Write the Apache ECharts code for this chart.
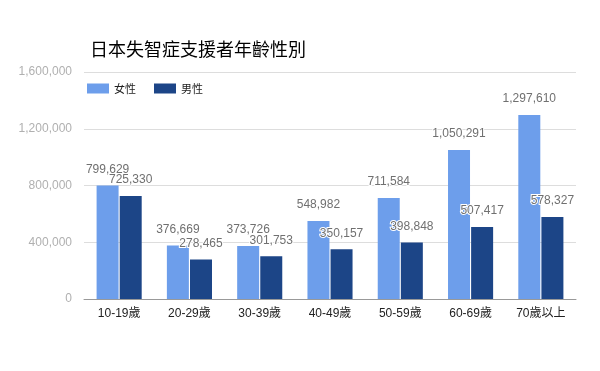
<!DOCTYPE html>
<html><head><meta charset="utf-8">
<script src="https://cdn.jsdelivr.net/npm/echarts@6/dist/echarts.min.js"></script>
<style>html,body{margin:0;padding:0;background:#fff}#c{width:600px;height:371px}</style>
</head><body><div id="c"></div>
<script>
const categories = ['10-19歲','20-29歲','30-39歲','40-49歲','50-59歲','60-69歲','70歲以上'];
const female = [799629, 376669, 373726, 548982, 711584, 1050291, 1297610];
const male = [725330, 278465, 301753, 350157, 398848, 507417, 578327];
const seriesNames = ['女性','男性'];
const yTicks = {min: 0, max: 1600000, interval: 400000};

const fmt = v => Number(v).toLocaleString('en-US');
const chart = echarts.init(document.getElementById('c'));
const labelStyle = {
  show: true, position: 'top', distance: 10,
  formatter: p => fmt(p.value),
  color: '#707070', fontSize: 12, fontFamily: 'Arial, Liberation Sans, sans-serif',
  textBorderColor: '#fff', textBorderWidth: 2
};
chart.setOption({
  animation: false,
  title: {
    text: '日本失智症支援者年齡性別', left: 85, top: 35,
    textStyle: {fontSize: 18, fontWeight: 'normal', color: '#000', fontFamily: 'Noto Sans CJK TC, sans-serif'}
  },
  legend: {
    data: seriesNames, left: 82, top: 78, icon: 'rect', itemWidth: 22, itemHeight: 10, itemGap: 18,
    textStyle: {fontSize: 11, color: '#222', fontFamily: 'Noto Sans CJK TC, sans-serif'}
  },
  grid: {left: 84, right: 24, top: 72, bottom: 72},
  xAxis: {
    type: 'category', data: categories,
    axisLine: {lineStyle: {color: '#999'}}, axisTick: {show: false},
    axisLabel: {color: '#222', fontSize: 12, margin: 9, fontFamily: 'Arial, Noto Sans CJK TC, sans-serif'}
  },
  yAxis: {
    type: 'value', min: yTicks.min, max: yTicks.max, interval: yTicks.interval,
    axisLabel: {formatter: v => fmt(v), color: '#b0b0b0', fontSize: 12, margin: 12, fontFamily: 'Arial, Liberation Sans, sans-serif'},
    splitLine: {lineStyle: {color: '#dddddd'}},
    axisLine: {show: false}, axisTick: {show: false}
  },
  series: [
    {name: seriesNames[0], type: 'bar', data: female, barWidth: 22, barGap: '5%', itemStyle: {color: '#6d9eeb'}, label: labelStyle},
    {name: seriesNames[1], type: 'bar', data: male, barWidth: 22, itemStyle: {color: '#1c4587'}, label: labelStyle}
  ]
});
</script></body></html>
